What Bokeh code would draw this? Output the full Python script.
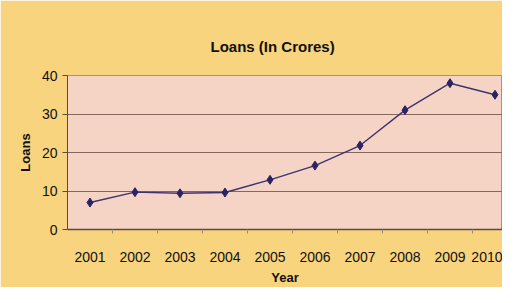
from bokeh.plotting import figure
from bokeh.models import ColumnDataSource, Range1d, FixedTicker, Title
from bokeh.embed import file_html
from bokeh.resources import INLINE

years = ["2001", "2002", "2003", "2004", "2005", "2006", "2007", "2008", "2009", "2010"]
loans = [7.0, 9.7, 9.4, 9.6, 12.9, 16.6, 21.8, 31.0, 38.0, 35.0]
y_ticks = [0, 10, 20, 30, 40]
title_text = "Loans (In Crores)"
x_label = "Year"
y_label = "Loans"

idx = list(range(len(years)))
src = ColumnDataSource(dict(x=idx, y=loans))

FONT = "Liberation Sans"
YELLOW = "#f8d47f"
PINK = "#f5d4c6"

W, H = 502, 287
LEFT, TOP, BOTTOM = 67, 75, 230        # frame edges in px
CAT_PX = 45.0                          # px per category

def dx(px):
    return -0.5 + (px - LEFT) / CAT_PX

p = figure(width=W, height=H, output_backend="svg", toolbar_location=None,
           x_range=Range1d(-0.5, dx(W)), y_range=Range1d(0, 40),
           min_border_left=LEFT, min_border_right=0, min_border_top=TOP,
           min_border_bottom=H - BOTTOM)
p.title = Title(text=title_text, text_font=FONT, text_font_size="15px",
                text_font_style="bold", text_color="#111111", align="left",
                offset=143, standoff=42)
p.background_fill_color = PINK
p.border_fill_color = YELLOW
p.outline_line_color = "#a8907c"
p.outline_line_width = 1

# grid
p.xgrid.grid_line_color = None
p.ygrid.ticker = FixedTicker(ticks=y_ticks)
p.ygrid.grid_line_color = "#86675c"
p.ygrid.grid_line_width = 1

# x axis
p.xaxis.ticker = FixedTicker(ticks=idx, minor_ticks=[i + 0.5 for i in idx[:-1]])
p.xaxis.major_label_overrides = {i: y for i, y in zip(idx, years)}
p.xaxis.major_tick_line_color = None
p.xaxis.major_tick_out = 0
p.xaxis.minor_tick_out = 4
p.xaxis.minor_tick_in = 0
p.xaxis.minor_tick_line_color = "#9c8a78"
p.xaxis.axis_line_color = "#5a4a44"
p.xaxis.axis_line_width = 1.5
p.xaxis.major_label_text_font = FONT
p.xaxis.major_label_text_font_size = "14px"
p.xaxis.major_label_text_color = "#111111"
p.xaxis.major_label_standoff = 18
p.xaxis.axis_label = x_label
p.xaxis.axis_label_text_font = FONT
p.xaxis.axis_label_text_font_size = "13px"
p.xaxis.axis_label_text_font_style = "bold"
p.xaxis.axis_label_text_color = "#111111"
p.xaxis.axis_label_standoff = 5

# y axis
p.yaxis.ticker = FixedTicker(ticks=y_ticks)
p.yaxis.minor_tick_line_color = None
p.yaxis.major_tick_out = 5
p.yaxis.major_tick_in = 0
p.yaxis.major_tick_line_color = "#5a4a44"
p.yaxis.axis_line_color = "#5a4a44"
p.yaxis.major_label_text_font = FONT
p.yaxis.major_label_text_font_size = "14px"
p.yaxis.major_label_text_color = "#111111"
p.yaxis.major_label_standoff = 5
p.yaxis.axis_label = y_label
p.yaxis.axis_label_text_font = FONT
p.yaxis.axis_label_text_font_size = "13px"
p.yaxis.axis_label_text_font_style = "bold"
p.yaxis.axis_label_text_color = "#111111"
p.yaxis.axis_label_standoff = 6

# data
p.line("x", "y", source=src, line_color="#3e3370", line_width=1.4)
p.scatter("x", "y", source=src, marker="diamond", size=9,
          fill_color="#2c2264", line_color="#2c2264")

open("out.html", "w").write(file_html(p, INLINE))
